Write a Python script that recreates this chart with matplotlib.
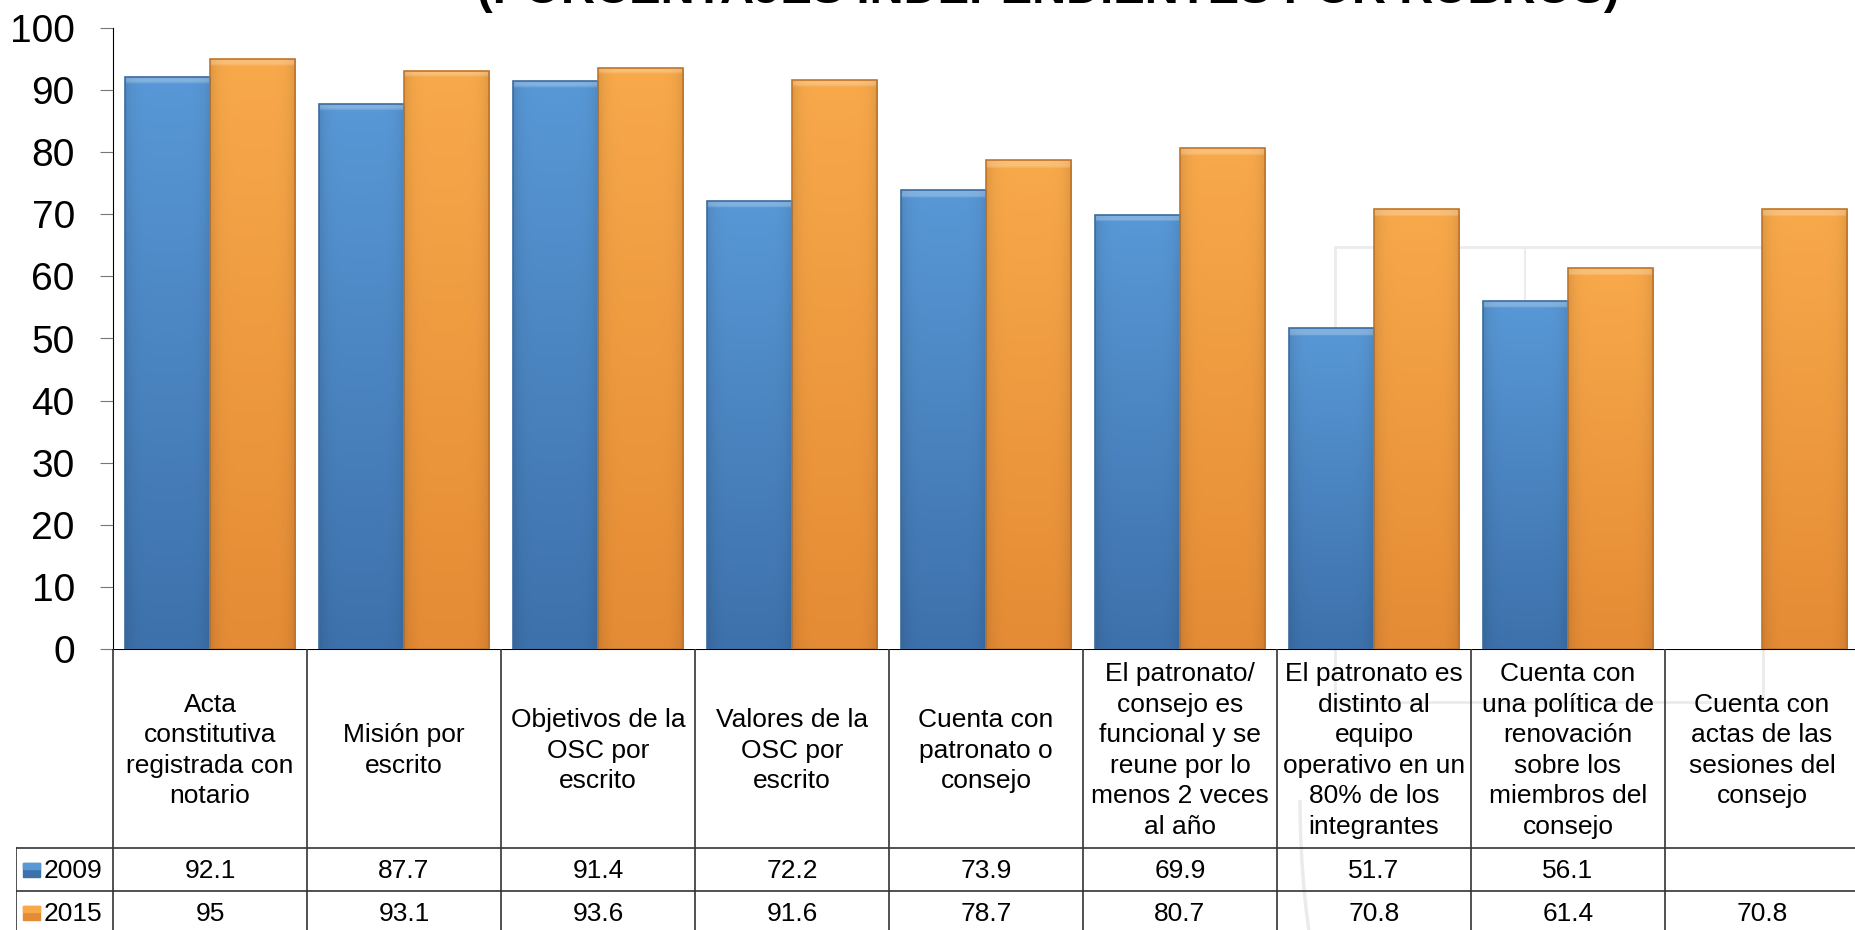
import matplotlib.pyplot as plt
import numpy as np
from matplotlib.patches import Rectangle, Arc
from matplotlib.colors import to_rgb

plt.rcParams['font.family'] = ['Liberation Sans', 'DejaVu Sans']

categories = ["Acta\nconstitutiva\nregistrada con\nnotario",
              "Misión por\nescrito",
              "Objetivos de la\nOSC por\nescrito",
              "Valores de la\nOSC por\nescrito",
              "Cuenta con\npatronato o\nconsejo",
              "El patronato/\nconsejo es\nfuncional y se\nreune por lo\nmenos 2 veces\nal año",
              "El patronato es\ndistinto al\nequipo\noperativo en un\n80% de los\nintegrantes",
              "Cuenta con\nuna política de\nrenovación\nsobre los\nmiembros del\nconsejo",
              "Cuenta con\nactas de las\nsesiones del\nconsejo"]
v2009 = [92.1, 87.7, 91.4, 72.2, 73.9, 69.9, 51.7, 56.1, None]
v2015 = [95, 93.1, 93.6, 91.6, 78.7, 80.7, 70.8, 61.4, 70.8]
series = [("2009", v2009), ("2015", v2015)]
title = "(PORCENTAJES INDEPENDIENTES POR RUBROS)"

# colours: (top, bottom, edge)
cols = {"2009": ('#5898d6', '#3d71ab', '#3a6b9f'),
        "2015": ('#f8a94a', '#e48b35', '#c07428')}

W, H = 1856, 930
fig = plt.figure(figsize=(W / 100, H / 100), dpi=100)

# faint logo watermark in the background
bg = fig.add_axes([0, 0, 1, 1])
bg.set_xlim(0, W)
bg.set_ylim(H, 0)
bg.axis('off')
wm = '#ebebeb'
bg.add_patch(Rectangle((1335, 247), 428, 455, fill=False, ec=wm, lw=2))
bg.add_patch(Arc((1620, 800), 640, 1120, theta1=95, theta2=180, ec=wm, lw=2.5))
bg.add_patch(Arc((1390, 1010), 1180, 1180, theta1=22, theta2=88, ec=wm, lw=2.5))
bg.plot([1525, 1525], [247, 560], color=wm, lw=1.5)


def shade_bar(ax, bar, top, bottom):
    x, y = bar.get_xy()
    w, h = bar.get_width(), bar.get_height()
    t = np.linspace(0, 1, 200)[:, None, None]
    u = np.linspace(0, 1, 40)[None, :, None]
    top, bottom = np.array(to_rgb(top)), np.array(to_rgb(bottom))
    img = bottom + (top - bottom) * t
    img = img * (1 - 0.10 * np.abs(2 * u - 1) ** 6)
    # bevel highlight along the top edge
    rows = int(200 * min(1.3 / h, 0.2))
    if rows > 0:
        img[-rows:] = img[-rows:] * 0.75 + 0.25
    img = np.clip(img, 0, 1)
    im = ax.imshow(img, extent=[x, x + w, y, y + h], origin='lower',
                   aspect='auto', zorder=1.5, interpolation='bilinear')
    im.set_clip_path(bar)


x0, x1 = 113, 1859
ytop, ybase = 28, 649
ax = fig.add_axes([x0 / W, 1 - ybase / H, (x1 - x0) / W, (ybase - ytop) / H])
ax.patch.set_alpha(0)

n = len(categories)
x = np.arange(n)
bw = 0.44
for k, (name, vals) in enumerate(series):
    xs = np.array([xi for xi, v in zip(x, vals) if v is not None])
    hs = [v for v in vals if v is not None]
    off = (k - 0.5) * bw
    top, bottom, ec = cols[name]
    bars = ax.bar(xs + off, hs, width=bw, color=bottom, linewidth=0)
    for b in bars:
        shade_bar(ax, b, top, bottom)
    ax.bar(xs + off, hs, width=bw, fill=False, edgecolor=ec, linewidth=1.2, zorder=2)

ax.set_xlim(-0.5, n - 0.5)
ax.set_ylim(0, 100)
ax.set_yticks(range(0, 101, 10))
ax.tick_params(axis='y', labelsize=28, length=9.5, pad=18, color='#777777', direction='out')
ax.set_xticks([])
for s in ['top', 'right', 'bottom']:
    ax.spines[s].set_visible(False)
ax.spines['left'].set_color('black')

# title: only the lower edge shows at the top of the picture
fig.text(1048 / W, 1 - 3 / H, title, ha='center', va='baseline',
         fontsize=34, fontweight='bold')

# data table below the axis
tab = fig.add_axes([16 / W, 0, (x1 - 16) / W, (H - ybase) / H])
tab.set_xlim(-1.0, n - 0.5)
tab.set_ylim(H - ybase, 0)
tab.axis('off')
lc = '#333333'
r1, r2, r3 = 199, 242, 285
tab.plot([-0.5, n - 0.5], [0, 0], color='black', lw=1.5)
tab.plot([-1.0, n - 0.5], [r1, r1], color=lc, lw=1.2)
tab.plot([-1.0, n - 0.5], [r2, r2], color=lc, lw=1.2)
for i in range(n + 1):
    tab.plot([i - 0.5, i - 0.5], [0, r3], color=lc, lw=1.2)
tab.plot([-1.0, -1.0], [r1, r3], color=lc, lw=1.2)

for i, cat in enumerate(categories):
    tab.text(i, r1 / 2 + 2, cat, ha='center', va='center', fontsize=19,
             linespacing=1.34)
for (name, vals), (ya, yb) in zip(series, [(r1, r2), (r2, r3)]):
    yc = (ya + yb) / 2
    for i, v in enumerate(vals):
        if v is not None:
            tab.text(i, yc + 1, f"{v:g}", ha='center', va='center', fontsize=19)
    tab.add_patch(Rectangle((-0.965, yc - 7), 0.09, 14, color=cols[name][1]))
    tab.add_patch(Rectangle((-0.965, yc - 7), 0.09, 6, color=cols[name][0]))
    tab.text(-0.86, yc + 1, name, ha='left', va='center', fontsize=19)

fig.savefig('out.png', dpi=100)
